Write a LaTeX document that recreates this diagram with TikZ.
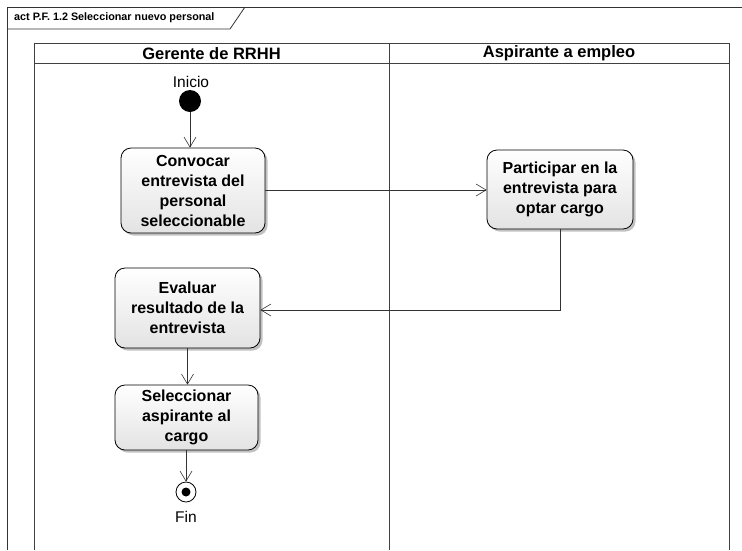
\documentclass[tikz,border=0pt]{standalone}
\usepackage{fontspec}
\setmainfont{Liberation Sans}
\usetikzlibrary{arrows.meta,shadows}
\tikzset{
  act/.style={draw=black, line width=0.8pt, rounded corners=10pt, top color=white, bottom color=gray!22,
    align=center, inner sep=2pt, font=\fontsize{16}{20}\selectfont\bfseries,
    drop shadow={shadow xshift=2.5pt, shadow yshift=-2.5pt, fill=gray!60, opacity=0.8}},
  arr/.style={draw=black!80, line width=0.6pt, -{Straight Barb[length=10pt,width=12pt,line width=0.6pt]}},
  lane/.style={draw=black!75, line width=0.8pt},
  hdr/.style={font=\fontsize{16.5}{18}\selectfont\bfseries},
  lbl/.style={font=\fontsize{15.5}{17}\selectfont}
}
\begin{document}
\begin{tikzpicture}[x=1pt,y=-1pt]
\useasboundingbox (0,0) rectangle (742,550);
% frame
\draw[line width=0.8pt, draw=black!80] (7,550) -- (7,7) -- (742,7);
\draw[line width=0.8pt, draw=black!80] (7,29) -- (230,29) -- (245,7);
\node[anchor=west, font=\fontsize{10.8}{12}\selectfont\bfseries, inner sep=0pt] (title) at (14,18) {act P.F. 1.2 Seleccionar nuevo personal};
% swimlanes
\draw[lane] (34,550) -- (34,43) -- (729,43) -- (729,550);
\draw[lane] (34,63) -- (729,63);
\draw[lane] (389,43) -- (389,550);
\node[hdr] (h1) at (211.5,53.5) {Gerente de RRHH};
\node[hdr] (h2) at (559,53.5) {Aspirante a empleo};
% nodes
\node[circle, fill=black, minimum size=22pt, inner sep=0pt] (init) at (190,101) {};
\node[lbl, anchor=south, inner sep=0pt] (inicio) at (191,88) {Inicio};
\node[act, minimum width=144pt, minimum height=85pt] (conv) at (193,190.5) {Convocar\\entrevista del\\personal\\seleccionable};
\node[act, minimum width=146pt, minimum height=79pt] (part) at (560,189.5) {Participar en la\\entrevista para\\optar cargo};
\node[act, minimum width=145pt, minimum height=80pt] (eval) at (187.5,308) {Evaluar\\resultado de la\\entrevista};
\node[act, minimum width=143pt, minimum height=65pt] (sel) at (186.5,417.5) {Seleccionar\\aspirante al\\cargo};
\node[circle, draw=black, line width=0.8pt, fill=white, minimum size=20pt, inner sep=0pt] (fin) at (186,492) {};
\node[circle, fill=black, minimum size=9pt, inner sep=0pt] (findot) at (fin) {};
\node[lbl, anchor=north, inner sep=0pt] (finlbl) at (186,511) {Fin};
% edges
\draw[arr] (init) -- (init |- conv.north);
\draw[arr] (conv.east |- 0,190) -- (part.west |- 0,190);
\draw[arr] (part.south) |- (eval.east |- 0,310);
\draw[arr] (eval.south) -- (eval.south |- sel.north);
\draw[arr] (sel.south -| fin) -- (fin.north);
\end{tikzpicture}
\end{document}
